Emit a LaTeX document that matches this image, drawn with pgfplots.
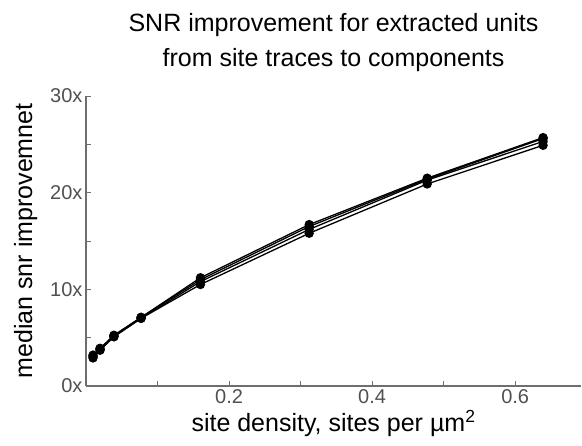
\documentclass[border=0pt]{standalone}
\usepackage{pgfplots}
\pgfplotsset{compat=1.18}
\usepackage{fontspec}
\setmainfont{Liberation Sans}
\definecolor{axgray}{RGB}{110,110,110}
\definecolor{lblgray}{RGB}{80,80,80}
\begin{document}
\begin{tikzpicture}
\begin{axis}[
  scale only axis,
  width=495pt, height=290pt,
  xmin=0, xmax=0.692, ymin=0, ymax=30,
  axis lines=left,
  axis line style={-, axgray, line width=1.2pt},
  tick align=inside,
  major tick length=5pt, minor tick length=5pt,
  tick style={axgray, line width=1pt},
  xtick={0.2,0.4,0.6}, xticklabels={0.2,0.4,0.6},
  minor xtick={0.1,0.3,0.5},
  ytick={0,10,20,30}, yticklabels={0x,10x,20x,30x},
  minor ytick={5,15,25},
  ticklabel style={font=\fontsize{20}{24}\selectfont, text=lblgray},
  xlabel={site density, sites per µm\textsuperscript{2}},
  ylabel={median snr improvemnet},
  label style={font=\fontsize{25}{30}\selectfont},
  xlabel style={yshift=0pt},
  ylabel style={yshift=6pt},
  title={SNR improvement for extracted units\\from site traces to components},
  title style={font=\fontsize{25}{35}\selectfont, align=center, at={(0.5,1)}, anchor=south, yshift=15pt},
  clip=false,
]
\addplot[black, line width=1.3pt, mark=*, mark size=4pt] coordinates {(0.0098,3.2) (0.0196,3.9) (0.039,5.25) (0.077,7.1) (0.16,11.2) (0.312,16.7) (0.477,21.5) (0.639,25.7)};
\addplot[black, line width=1.3pt, mark=*, mark size=4pt] coordinates {(0.0098,3.1) (0.0196,3.85) (0.039,5.2) (0.077,7.1) (0.16,11.0) (0.312,16.5) (0.477,21.4) (0.639,25.6)};
\addplot[black, line width=1.3pt, mark=*, mark size=4pt] coordinates {(0.0098,3.0) (0.0196,3.75) (0.039,5.1) (0.077,7.0) (0.16,10.8) (0.312,16.2) (0.477,21.3) (0.639,25.3)};
\addplot[black, line width=1.3pt, mark=*, mark size=4pt] coordinates {(0.0098,2.9) (0.0196,3.7) (0.039,5.1) (0.077,7.0) (0.16,10.5) (0.312,15.8) (0.477,20.9) (0.639,24.9)};
\path (rel axis cs:0,0) ++(-86pt,-59pt) coordinate (bl);
\path (rel axis cs:1,1) ++(1pt,96pt) coordinate (tr);
\path (bl) rectangle (tr);
\end{axis}
\end{tikzpicture}
\end{document}
